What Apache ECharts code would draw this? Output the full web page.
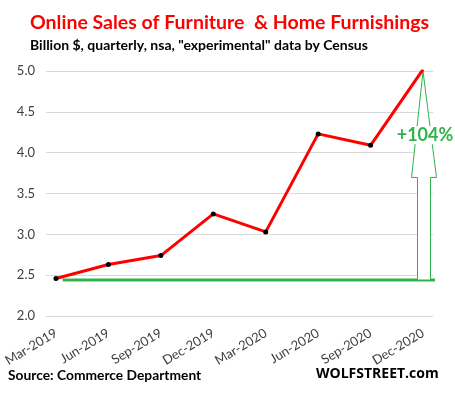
<!DOCTYPE html>
<html><head><meta charset="utf-8">
<script src="https://cdn.jsdelivr.net/npm/echarts@6/dist/echarts.min.js"></script>
<style>html,body{margin:0;padding:0;background:#fff}#c{width:455px;height:395px}</style>
</head><body><div id="c"></div>
<script>
var categories = ['Mar-2019','Jun-2019','Sep-2019','Dec-2019','Mar-2020','Jun-2020','Sep-2020','Dec-2020'];
var sales = [2.46, 2.63, 2.74, 3.25, 3.03, 4.23, 4.09, 5.02];
var yTicks = [2.0, 2.5, 3.0, 3.5, 4.0, 4.5, 5.0];
var baseLevel = [2.44];
var changeLabel = '+104%';

var chart = echarts.init(document.getElementById('c'));
var F = 'Lato, "Open Sans", sans-serif';
var green = '#2fb34a';
chart.setOption({
  animation: false,
  grid: {left: 46, right: 22, top: 71, bottom: 79},
  xAxis: {
    type: 'value', min: -0.19, max: 7.19,
    axisLine: {show: false}, axisTick: {show: false}, splitLine: {show: false},
    axisLabel: {
      customValues: categories.map(function (c, i) { return i; }),
      rotate: 31, margin: 16, color: '#404040', fontFamily: F, fontSize: 13,
      formatter: function (v) { return categories[Math.round(v)] || ''; }
    }
  },
  yAxis: {
    type: 'value', min: yTicks[0], max: yTicks[yTicks.length - 1], interval: 0.5,
    axisLine: {show: false}, axisTick: {show: false},
    splitLine: {lineStyle: {color: '#d9d9d9', width: 1}},
    axisLabel: {color: '#404040', fontFamily: F, fontSize: 13, margin: 11,
      formatter: function (v) { return v.toFixed(1); }}
  },
  series: [
    {
      type: 'line', z: 3, clip: false,
      data: [[0.13, baseLevel[0]], [7.32, baseLevel[0]]],
      symbol: 'none', lineStyle: {color: green, width: 3}
    },
    {
      type: 'line', z: 5,
      data: sales.map(function (v, i) { return [i, v]; }),
      symbol: 'circle', symbolSize: 5,
      itemStyle: {color: '#000'},
      lineStyle: {color: '#ff0000', width: 3}
    }
  ]
});

var last = sales.length - 1;
var tip = chart.convertToPixel({gridIndex: 0}, [last, sales[last]]);
var base = chart.convertToPixel({gridIndex: 0}, [last, baseLevel[0]]);
var cx = Math.round(tip[0]);
var by = Math.round(base[1]);
var headBase = by - 102.5;
var pts = [
  [tip[0], tip[1] + 2], [cx + 13.5, headBase], [cx + 7.5, headBase], [cx + 7.5, by],
  [cx - 5.5, by], [cx - 5.5, headBase], [cx - 11.5, headBase]
];
chart.setOption({
  graphic: [
    {type: 'polygon', z: 4, shape: {points: pts}, style: {fill: '#fff', stroke: green, lineWidth: 1}},
    {type: 'text', z: 6, x: cx + 2, y: tip[1] + 66, style: {
      text: changeLabel, fill: green, font: 'bold 18px ' + F, align: 'center', verticalAlign: 'middle',
      backgroundColor: '#fff', padding: [0, 1]}},
    {type: 'text', left: 30, top: 13, style: {text: 'Online Sales of Furniture  & Home Furnishings',
      fill: '#ff0000', font: 'bold 19.5px ' + F}},
    {type: 'text', left: 30, top: 38, style: {text: 'Billion $, quarterly, nsa, "experimental" data by Census',
      fill: '#000', font: 'bold 14px ' + F}},
    {type: 'text', left: 8, top: 369, style: {text: 'Source: Commerce Department',
      fill: '#000', font: 'bold 13.8px ' + F}},
    {type: 'text', left: 316, top: 367, style: {text: 'WOLFSTREET.com',
      fill: '#000', font: 'bold 14px "Open Sans", sans-serif'}}
  ]
});
</script></body></html>
